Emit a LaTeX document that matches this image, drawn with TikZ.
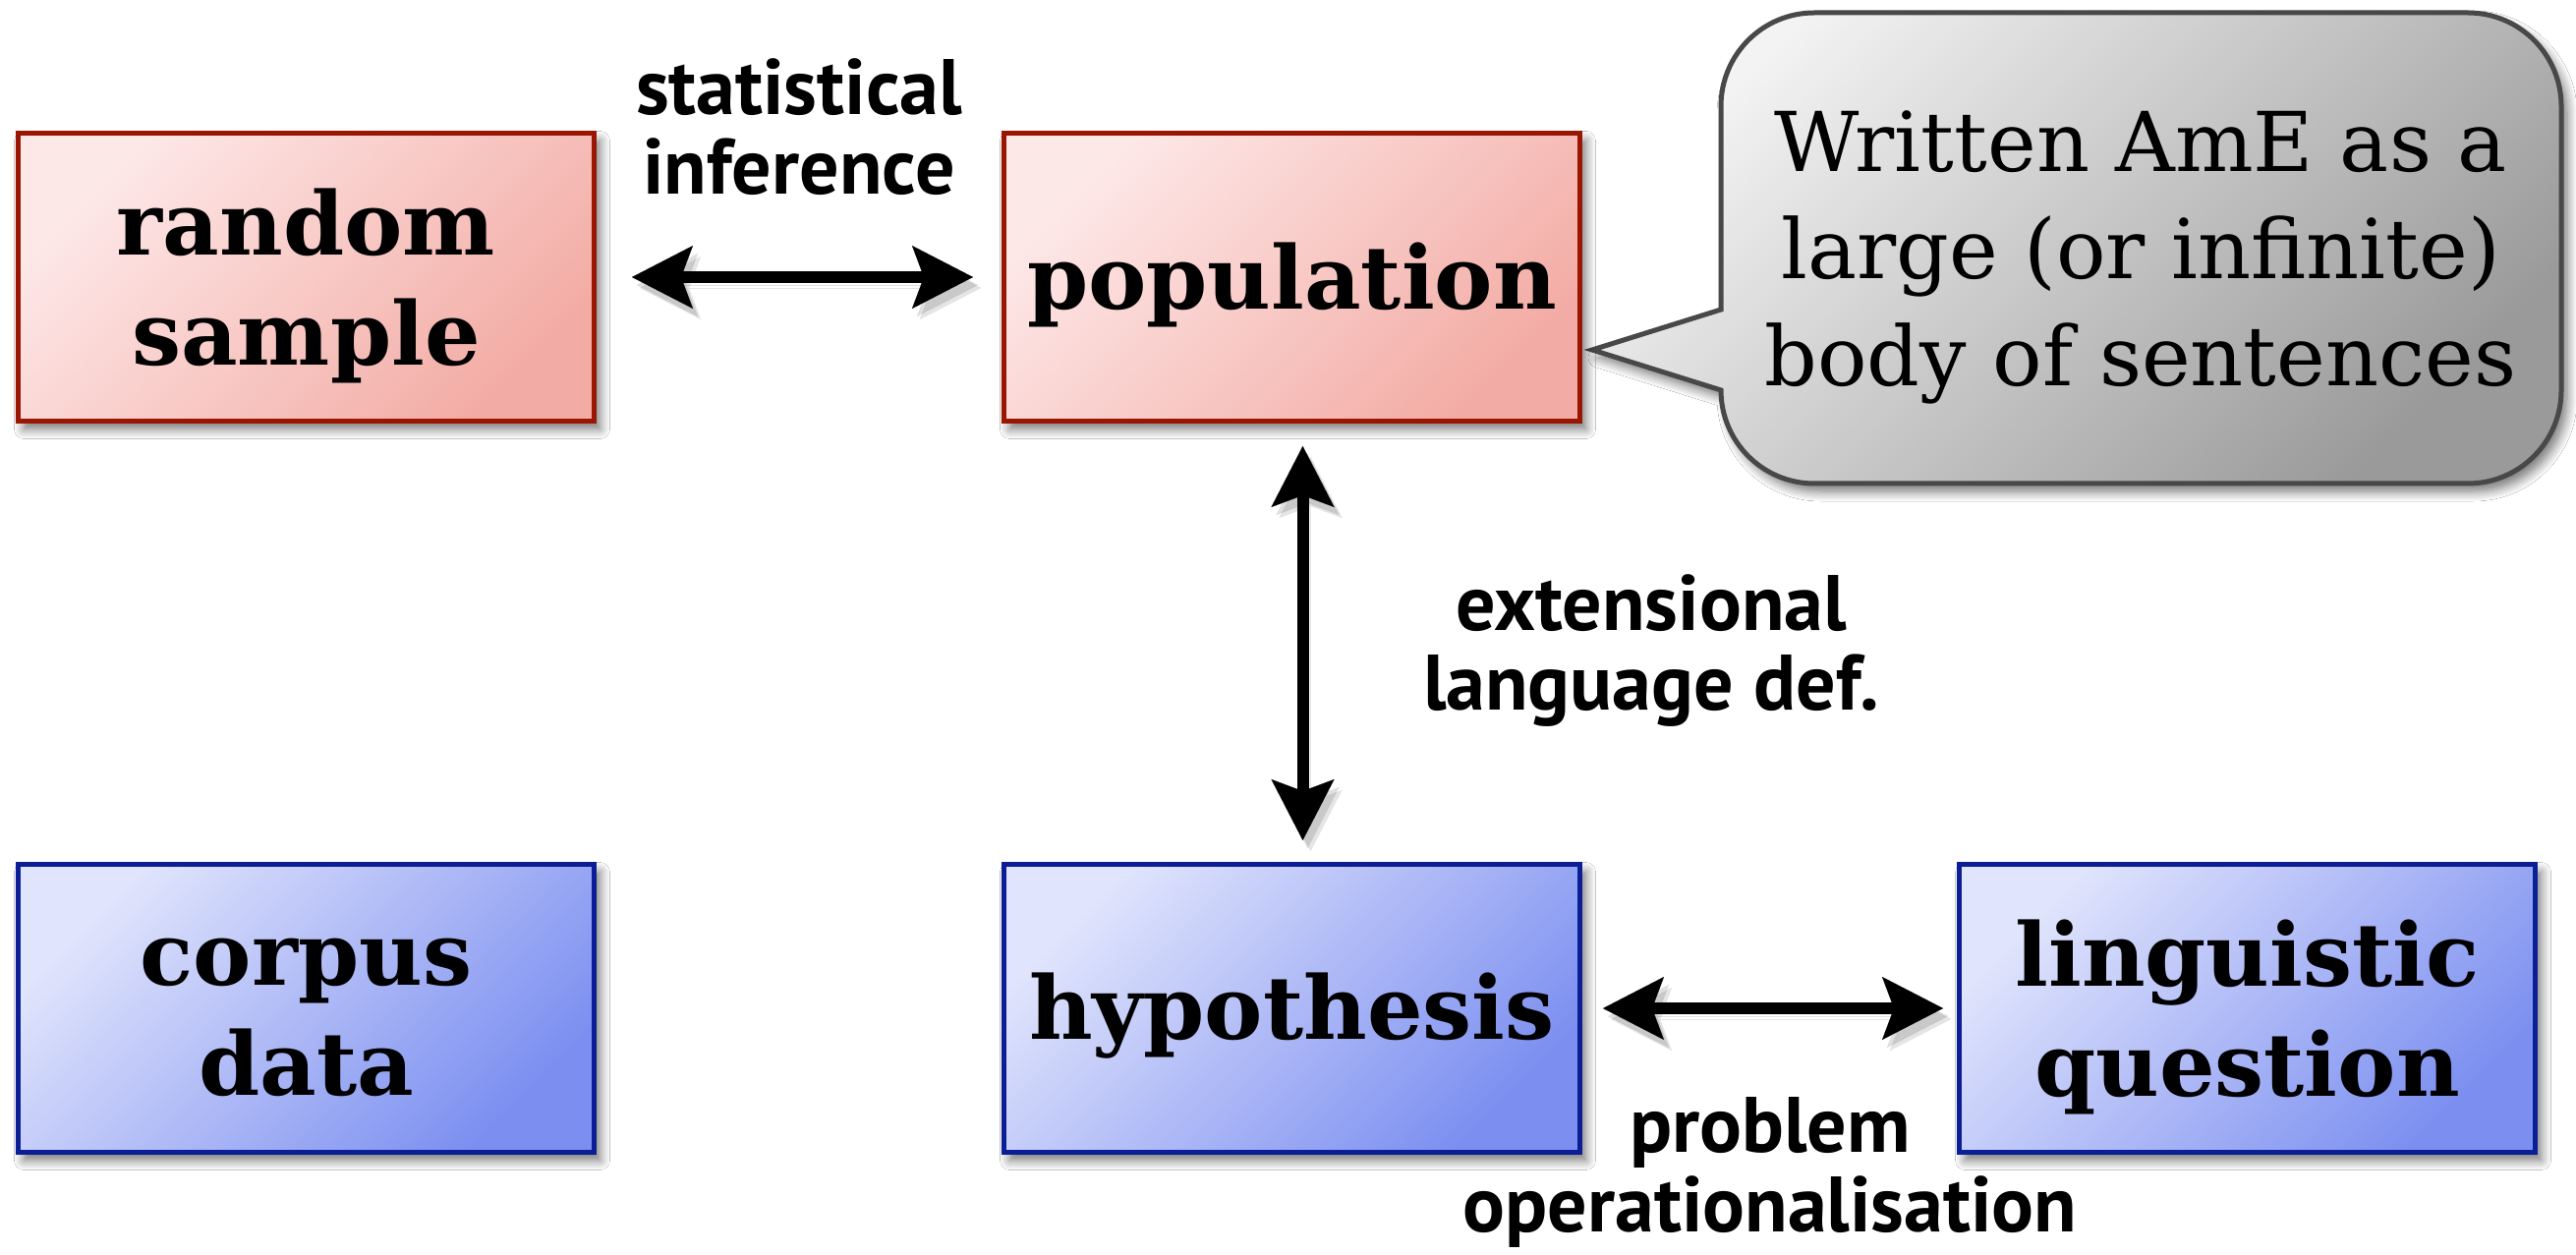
\documentclass[tikz,border=0pt]{standalone}
\usepackage{fontspec}
\setmainfont{DejaVu Serif}
\newfontfamily\lblfont{PT Sans}
\usetikzlibrary{arrows.meta,shadows.blur}
\definecolor{redtl}{HTML}{FDE8E8}
\definecolor{redbr}{HTML}{F3ACA5}
\definecolor{redborder}{HTML}{9A1502}
\definecolor{bluetl}{HTML}{E0E4FC}
\definecolor{bluebr}{HTML}{7C8FF0}
\definecolor{blueborder}{HTML}{0B1E96}
\definecolor{graytl}{HTML}{F3F3F3}
\definecolor{graybr}{HTML}{9A9A9A}
\definecolor{grayborder}{HTML}{484848}
\begin{document}
\begin{tikzpicture}[x=0.5pt,y=-0.5pt,
  softshadow/.style={blur shadow={shadow xshift=3pt, shadow yshift=-4pt, shadow blur radius=5pt, shadow blur steps=10, shadow opacity=55}},
  box/.style={rectangle, line width=2.5pt, minimum width=293pt, minimum height=146.5pt,
    inner sep=0pt, softshadow},
  redbox/.style={box, draw=redborder, top color=redtl, bottom color=redbr, shading angle=45},
  bluebox/.style={box, draw=blueborder, top color=bluetl, bottom color=bluebr, shading angle=45},
  boxtext/.style={align=center, inner sep=0pt, font=\fontsize{44.5}{56}\selectfont\bfseries},
  headtip/.tip={Stealth[length=31pt, width=32pt, inset=6pt, line width=0.01pt, fill=black]},
  conn/.style={line width=6pt, black, arrows={headtip-headtip},
    preaction={draw=black, opacity=0.12, transform canvas={shift={(2.5pt,-4pt)}}},
    preaction={draw=black, opacity=0.10, transform canvas={shift={(4pt,-5.5pt)}}}},
  lbl/.style={font=\lblfont\bfseries\fontsize{40}{40.5}\selectfont, align=center, inner sep=0pt},
  calloutbody/.style={draw=grayborder, line width=2.5pt, top color=graytl, bottom color=graybr, shading angle=45, softshadow},
  callouttxt/.style={font=\fontsize{42}{54.5}\selectfont, align=center, inner sep=0pt}
]
\useasboundingbox (0,0) rectangle (2621,1277);
\fill[white] (0,0) rectangle (2621,1277);

% callout body
\draw[calloutbody] (1751,315) -- (1751,108)
  .. controls (1751,55.5) and (1793.5,13) .. (1846,13)
  -- (2511,13)
  .. controls (2563.5,13) and (2606,55.5) .. (2606,108)
  -- (2606,397)
  .. controls (2606,449.5) and (2563.5,492) .. (2511,492)
  -- (1846,492)
  .. controls (1793.5,492) and (1751,449.5) .. (1751,397)
  -- (1620,356) -- cycle;
\node[callouttxt] (callout) at (2178,262) {Written AmE as a\\large (or infinite)\\body of sentences};

% boxes
\node[redbox] (rs) at (311.5,282) {};
\node[redbox] (pop) at (1314.5,282) {};
\node[bluebox] (cd) at (311.5,1026) {};
\node[bluebox] (hyp) at (1314.5,1026) {};
\node[bluebox] (lq) at (2286.5,1026) {};
\node[boxtext] (rstxt) at ([yshift=-4.5pt]rs.center) {random\\sample};
\node[boxtext] (poptxt) at ([yshift=-4pt]pop.center) {population};
\node[boxtext] (cdtxt) at ([yshift=-4.5pt]cd.center) {corpus\\data};
\node[boxtext] (hyptxt) at ([yshift=-4pt]hyp.center) {hypothesis};
\node[boxtext] (lqtxt) at ([yshift=-4.5pt]lq.center) {linguistic\\question};

% connectors
\draw[conn, shorten <=18pt, shorten >=14.5pt] (rs.east) -- (pop.west);
\draw[conn, shorten <=11.5pt, shorten >=11pt] ([xshift=5.5pt]pop.south) -- ([xshift=5.5pt]hyp.north);
\draw[conn, shorten <=10.5pt, shorten >=7pt] (hyp.east) -- (lq.west);

% labels
\node[lbl] (si) at (813,129) {statistical\\inference};
\node[lbl] (eld) at (1680,662) {extensional\\language def.};
\node[lbl] (po) at (1801,1193) {problem\\operationalisation};
\end{tikzpicture}
\end{document}
